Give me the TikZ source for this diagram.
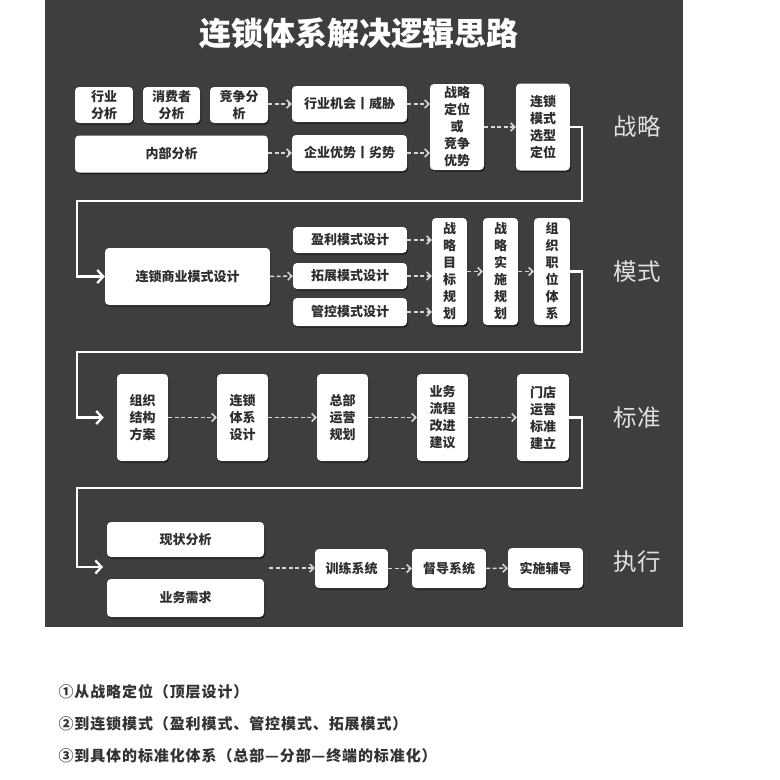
\documentclass[tikz,border=0pt]{standalone}
\usepackage{fontspec}
\usetikzlibrary{arrows.meta,shadows}
\newfontfamily\cjk{Noto Sans CJK SC}
\definecolor{panel}{RGB}{62,62,62}
\definecolor{boxtext}{RGB}{45,45,45}
\definecolor{dashgray}{RGB}{215,215,215}
\definecolor{sidegray}{RGB}{225,225,225}
\definecolor{foot}{RGB}{50,50,50}
\tikzset{
  box/.style={fill=white,rounded corners=4pt,text=boxtext,align=center,inner sep=0pt,
    font=\cjk\bfseries\fontsize{13}{17}\selectfont,
    drop shadow={shadow xshift=1pt,shadow yshift=-1.5pt,opacity=0.55,fill=black}},
  flow/.style={draw=dashgray,line width=1.5pt,dash pattern=on 4pt off 2.5pt,
    -{Straight Barb[length=4pt,width=8pt,line width=1.5pt]}},
  turn/.style={draw=white,line width=2.3pt,line join=miter,
    -{Straight Barb[length=6pt,width=13pt,line width=2.3pt]}},
  side/.style={text=sidegray,font=\cjk\fontsize{23.5}{26}\selectfont},
  note/.style={anchor=west,text=foot,
    font=\cjk\bfseries\fontsize{15}{17}\selectfont\addfontfeature{LetterSpace=6}}
}
\begin{document}
\begin{tikzpicture}[x=1pt,y=-1pt]
  \useasboundingbox[fill=white] (0,0) rectangle (780,780);
  \fill[panel] (45,0) rectangle (683,627);
  \node[text=white,font=\cjk\bfseries\fontsize{32}{34}\selectfont] (title) at (359,33) {连锁体系解决逻辑思路};

  \node[box,minimum width=58,minimum height=36] (ind) at (104,105) {行业\\分析};
  \node[box,minimum width=57,minimum height=36] (con) at (171.5,105) {消费者\\分析};
  \node[box,minimum width=58,minimum height=36] (cmp) at (239,105) {竞争分\\析};
  \node[box,minimum width=193,minimum height=37] (inn) at (171.5,154) {内部分析};
  \node[box,minimum width=115,minimum height=36] (opp) at (349.5,104) {行业机会丨威胁};
  \node[box,minimum width=115,minimum height=36] (adv) at (349.5,153) {企业优势丨劣势};
  \node[box,minimum width=54,minimum height=86] (pos) at (457,127) {战略\\定位\\或\\竞争\\优势};
  \node[box,minimum width=54,minimum height=87] (sel) at (543,127) {连锁\\模式\\选型\\定位};
  \node[side] (lab1) at (637,127) {战略};
  \draw[flow] (cmp.east |- opp.west) -- (opp.west);
  \draw[flow] (inn.east |- adv.west) -- (adv.west);
  \draw[flow] (opp.east) -- (opp.east -| pos.west);
  \draw[flow] (adv.east) -- (adv.east -| pos.west);
  \draw[flow] (pos.east) -- (sel.west);

  \node[box,minimum width=165,minimum height=57] (biz) at (187.5,276.5) {连锁商业模式设计};
  \node[box,minimum width=114,minimum height=26] (prf) at (350,240) {盈利模式设计};
  \node[box,minimum width=114,minimum height=26] (exp) at (350,276) {拓展模式设计};
  \node[box,minimum width=114,minimum height=28] (ctl) at (350,312) {管控模式设计};
  \node[box,minimum width=35,minimum height=107] (goal) at (449.5,271.5) {战\\略\\目\\标\\规\\划};
  \node[box,minimum width=35,minimum height=107] (impl) at (500.5,271.5) {战\\略\\实\\施\\规\\划};
  \node[box,minimum width=36,minimum height=107] (org) at (552,271.5) {组\\织\\职\\位\\体\\系};
  \node[side] (lab2) at (637,272) {模式};
  \draw[flow] (biz.east) -- (exp.west);
  \draw[flow] (prf.east) -- (prf.east -| goal.west);
  \draw[flow] (exp.east) -- (exp.east -| goal.west);
  \draw[flow] (ctl.east) -- (ctl.east -| goal.west);
  \draw[flow] (goal.east) -- (impl.west);
  \draw[flow] (impl.east) -- (org.west);

  \node[box,minimum width=51,minimum height=87] (plan) at (142.5,417.5) {组织\\结构\\方案};
  \node[box,minimum width=51,minimum height=87] (sys) at (242.5,417.5) {连锁\\体系\\设计};
  \node[box,minimum width=51,minimum height=87] (hq) at (342.5,417.5) {总部\\运营\\规划};
  \node[box,minimum width=51,minimum height=87] (proc) at (442.5,417.5) {业务\\流程\\改进\\建议};
  \node[box,minimum width=52,minimum height=87] (shop) at (543,417.5) {门店\\运营\\标准\\建立};
  \node[side] (lab3) at (637,418) {标准};
  \draw[flow] (plan) -- (sys);
  \draw[flow] (sys) -- (hq);
  \draw[flow] (hq) -- (proc);
  \draw[flow] (proc) -- (shop);

  \node[box,minimum width=157,minimum height=35] (now) at (185.5,539.5) {现状分析};
  \node[box,minimum width=157,minimum height=38] (need) at (185.5,598) {业务需求};
  \node[box,minimum width=73,minimum height=39] (train) at (351.5,568.5) {训练系统};
  \node[box,minimum width=74,minimum height=39] (guide) at (449,568.5) {督导系统};
  \node[box,minimum width=75,minimum height=40] (help) at (545.5,568) {实施辅导};
  \node[side] (lab4) at (637,562) {执行};
  \coordinate (in4) at (103,567);
  \coordinate (out4) at (269,568);
  \draw[flow] (out4) -- (out4 -| train.west);
  \draw[flow] (train) -- (guide);
  \draw[flow] (guide) -- (help);

  \coordinate (r1) at (582,201);
  \coordinate (l1) at (77,201);
  \coordinate (r2) at (582,352);
  \coordinate (l2) at (77,352);
  \coordinate (r3) at (582,488);
  \coordinate (l3) at (77,488);
  \draw[turn] (sel.east) -| (r1) -- (l1) |- (biz.west);
  \draw[turn,shorten >=13pt] (org.east) -| (r2) -- (l2) |- (plan.west);
  \draw[turn] (shop.east) -| (r3) -- (l3) |- (in4);

  \node[note] (n1) at (55,692) {①从战略定位（顶层设计）};
  \node[note] (n2) at (55,724) {②到连锁模式（盈利模式、管控模式、拓展模式）};
  \node[note] (n3) at (55,756) {③到具体的标准化体系（总部—分部—终端的标准化）};
\end{tikzpicture}
\end{document}
